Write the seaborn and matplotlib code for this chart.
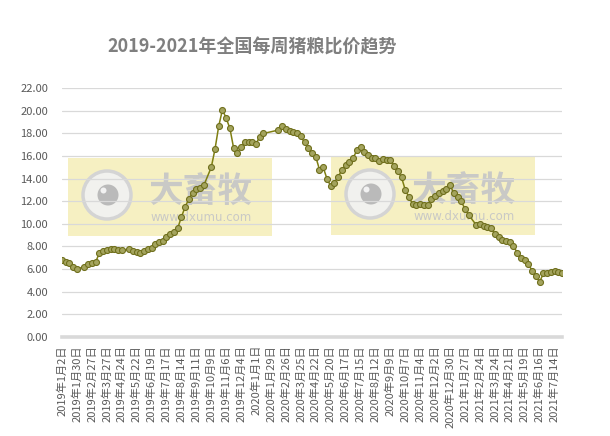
import numpy as np
import pandas as pd
import seaborn as sns
import matplotlib.pyplot as plt
from matplotlib.patches import Rectangle, Circle

# %% data: weekly pig/grain price ratio, None = no report that week
firstWeek = '2019-01-02'
ratio = [6.8, 6.6, 6.5, 6.2, 6.0, None, 6.2, 6.4, 6.5, 6.6,
         7.4, 7.6, 7.7, 7.75, 7.8, 7.7, 7.65, None, 7.75, 7.6,
         7.5, 7.4, 7.6, 7.75, 7.9, 8.2, 8.35, 8.5, 8.86, 9.1,
         9.25, 9.6, 10.6, 11.5, 12.2, 12.75, 13.1, 13.15, 13.4, None,
         15.0, 16.6, 18.65, 20.1, 19.35, 18.45, 16.7, 16.3, 16.8, 17.2,
         17.2, 17.2, 17.1, 17.7, 18.0, None, None, None, 18.3, 18.7,
         18.4, 18.25, 18.15, 18.05, 17.75, 17.2, 16.7, 16.3, 15.95, 14.8,
         15.0, 14.0, 13.35, 13.65, 14.17, 14.75, 15.2, 15.5, 15.8, 16.5,
         16.8, 16.4, 16.05, 15.85, 15.8, 15.6, 15.72, 15.65, 15.65, 15.15,
         14.68, 14.1, 13.0, 12.35, 11.72, 11.66, 11.72, 11.66, 11.65, 12.2,
         12.5, 12.75, 12.9, 13.05, 13.44, 12.7, 12.4, 12.0, 11.3, 10.78,
         None, 9.9, 10.0, 9.8, 9.7, 9.6, 9.1, 8.8, 8.6, 8.5,
         8.4, 8.0, 7.45, 6.95, 6.75, 6.4, 5.85, 5.38, 4.85, 5.6,
         5.68, 5.75, 5.8, 5.72, 5.6]
yTicks = [0, 2, 4, 6, 8, 10, 12, 14, 16, 18, 20, 22]
title = '2019-2021年全国每周猪粮比价趋势'
wmBig = '大畜牧'
wmSmall = 'www.dxumu.com'

dates = pd.date_range(firstWeek, periods=len(ratio), freq='7D')
df = pd.DataFrame({'date': dates, 'ratio': ratio})
df['week'] = (df.date - df.date[0]).dt.days / 7
dfPts = df.dropna()
tickDates = dates[::4]
tickLabels = [f"{d.year}年{d.month}月{d.day}日" for d in tickDates]
tickPos = df.week[::4]

# %% plot
sns.set_theme(style='white')
plt.rcParams['font.family'] = ['Noto Sans CJK SC', 'DejaVu Sans']
fig = plt.figure(figsize=(6.1, 4.36), dpi=100)

# watermark layer under the chart, pixel coords
ov = fig.add_axes([0, 0, 1, 1], zorder=0)
ov.set_xlim(0, 610)
ov.set_ylim(436, 0)
ov.axis('off')
for x0, y0 in [(68, 158), (331, 157)]:
    ov.add_patch(Rectangle((x0, y0), 204, 78, facecolor='#f6f0c2', lw=0))
    cx, cy = x0 + 39, y0 + 37
    ov.add_patch(Circle((cx, cy), 24, facecolor='#f1f1ee', edgecolor='#d4d4d4', lw=2.5))
    ov.add_patch(Circle((cx + 1, cy), 10.5, facecolor='#bababa', lw=0))
    ov.add_patch(Circle((cx - 3.5, cy - 4.5), 3, facecolor='#f2f2f2', lw=0))
    ov.text(x0 + 133, y0 + 33, wmBig, ha='center', va='center', fontsize=25,
            fontweight='bold', color='#c9c9c6')
    ov.text(x0 + 133, y0 + 59, wmSmall, ha='center', va='center', fontsize=8.5,
            color='#c9c9c6', family='DejaVu Sans')

ax = fig.add_axes([62/610, 99.3/436, 500/610, 248.4/436], zorder=2)
ax.patch.set_alpha(0)
sns.lineplot(data=dfPts, x='week', y='ratio', ax=ax, color='#7f7f12', lw=1.1,
             marker='o', markersize=4.3, markerfacecolor='#a4a45e',
             markeredgecolor='#6f6f1c', markeredgewidth=0.8, zorder=3)
ax.set_xlim(0, df.week.iloc[-1])
ax.set_ylim(0, 22)
ax.set_yticks(yTicks)
ax.set_yticklabels([f"{v:.2f}" for v in yTicks], fontsize=8, color='#595959')
ax.set_xticks(tickPos)
ax.set_xticklabels(tickLabels, rotation=90, fontsize=8, color='#595959', va='top')
ax.tick_params(axis='y', length=0, pad=10)
ax.tick_params(axis='x', length=0, pad=6)
ax.set_xlabel('')
ax.set_ylabel('')
ax.yaxis.grid(True, color='#d9d9d9', lw=0.9)
ax.set_axisbelow(True)
for s in ['top', 'right', 'left']:
    ax.spines[s].set_visible(False)
ax.spines['bottom'].set_color('#d9d9d9')
ax.spines['bottom'].set_linewidth(2.6)
ax.spines['bottom'].set_zorder(1)

fig.text(252/610, 1-46.7/436, title, ha='center', va='center', fontsize=13,
         fontweight='bold', color='#7f7f7f')

fig.savefig('out.png', dpi=100)
